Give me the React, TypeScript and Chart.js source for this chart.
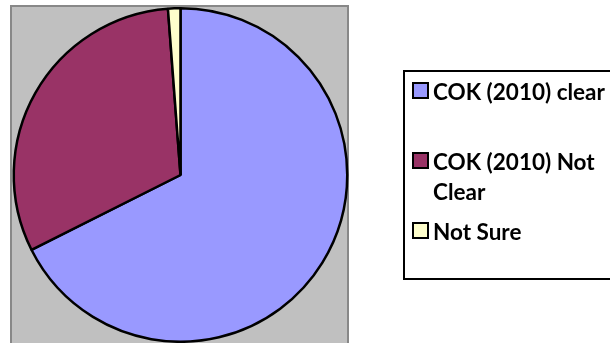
import React, { useEffect, useRef } from "react";
import { Chart, registerables } from "chart.js";

Chart.register(...registerables);

const categories = ["COK (2010) clear", "COK (2010) Not Clear", "Not Sure"];
const shares = [67.6, 31.2, 1.2];
const sliceColors = ["#9999FF", "#993366", "#FFFFCC"];

const FONT = "bold 22.5px Lato, 'Open Sans', sans-serif";

const backdropPlugin = {
  id: "backdrop",
  beforeDraw(chart: any) {
    const ctx = chart.ctx;
    ctx.save();
    ctx.fillStyle = "#ffffff";
    ctx.fillRect(0, 0, chart.width, chart.height);
    ctx.fillStyle = "#C0C0C0";
    ctx.fillRect(10, 5, 339, 345);
    ctx.strokeStyle = "#888888";
    ctx.lineWidth = 2;
    ctx.strokeRect(11, 6, 337, 345);
    ctx.restore();
  },
};

function wrap(ctx: CanvasRenderingContext2D, text: string, maxW: number): string[] {
  const words = text.split(" ");
  const lines: string[] = [];
  let cur = "";
  for (const w of words) {
    const t = cur ? cur + " " + w : w;
    if (ctx.measureText(t).width > maxW && cur) {
      lines.push(cur);
      cur = w;
    } else cur = t;
  }
  if (cur) lines.push(cur);
  return lines;
}

const legendPlugin = {
  id: "boxLegend",
  afterDraw(chart: any) {
    const ctx = chart.ctx;
    const labels: string[] = chart.data.labels;
    const colors: string[] = chart.data.datasets[0].backgroundColor;
    ctx.save();
    ctx.fillStyle = "#ffffff";
    ctx.fillRect(404, 71, 220, 208);
    ctx.strokeStyle = "#000000";
    ctx.lineWidth = 2;
    ctx.strokeRect(404, 71, 220, 208);
    ctx.font = FONT;
    ctx.textBaseline = "alphabetic";
    ctx.textAlign = "left";
    const firstBaselines = [100, 170, 240];
    labels.forEach((lab, i) => {
      const base = firstBaselines[i];
      ctx.fillStyle = colors[i];
      ctx.fillRect(413, base - 17, 15, 15);
      ctx.strokeStyle = "#000000";
      ctx.lineWidth = 2;
      ctx.strokeRect(413, base - 17, 15, 15);
      ctx.fillStyle = "#000000";
      const lines = wrap(ctx, lab, 180);
      lines.forEach((ln, j) => ctx.fillText(ln, 433, base + j * 30));
    });
    ctx.restore();
  },
};

export default function App() {
  const ref = useRef<HTMLCanvasElement | null>(null);
  useEffect(() => {
    if (!ref.current) return;
    const chart = new Chart(ref.current, {
      type: "pie",
      data: {
        labels: categories,
        datasets: [
          {
            data: shares,
            backgroundColor: sliceColors,
            borderColor: "#000000",
            borderWidth: 2.5,
          },
        ],
      },
      options: {
        animation: false,
        responsive: false,
        maintainAspectRatio: false,
        rotation: 0,
        layout: { padding: { left: 12, right: 261, top: 7, bottom: 0 } },
        plugins: {
          legend: { display: false },
          tooltip: { enabled: false },
        },
      },
      plugins: [backdropPlugin, legendPlugin],
    });
    return () => chart.destroy();
  }, []);
  return (
    <div style={{ position: "fixed", left: 0, top: 0, width: 610, height: 343, background: "#fff" }}>
      <canvas ref={ref} width={610} height={343} style={{ display: "block" }} />
    </div>
  );
}
